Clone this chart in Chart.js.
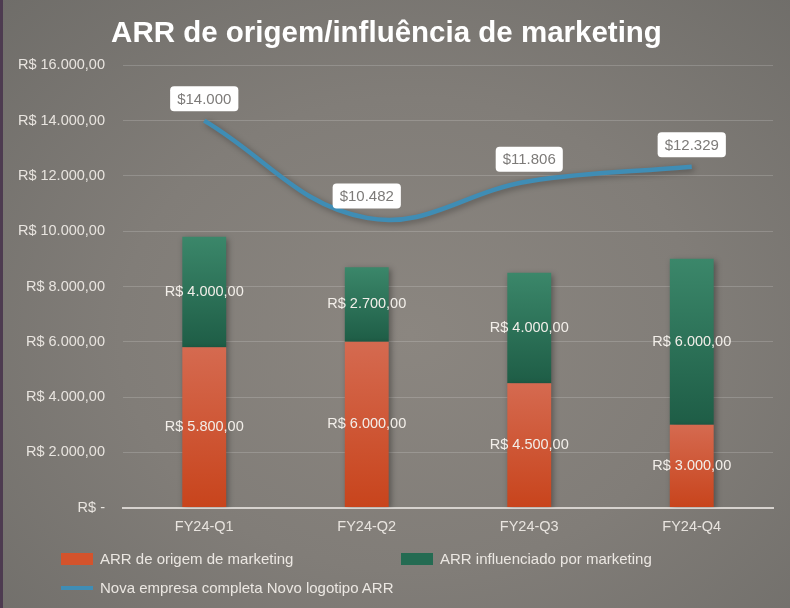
<!DOCTYPE html>
<html>
<head>
<meta charset="utf-8">
<script src="https://cdn.jsdelivr.net/npm/chart.js@4.4.1/dist/chart.umd.min.js"></script>
<style>
  body { margin: 0; }
  #box {
    position: relative; width: 790px; height: 608px; overflow: hidden;
    background: radial-gradient(ellipse at 52% 55%, #8b8680 0%, #817d78 50%, #6f6d69 100%);
    font-family: "Liberation Sans", Arial, sans-serif;
  }
  #box:before { content: ""; position: absolute; left: 0; top: 0; width: 3px; height: 608px; background: #4d3b50; }
  .leg { position: absolute; color: #ebe7e2; font-size: 15px; line-height: 18px; white-space: nowrap; }
  .leg i { position: absolute; left: -39px; top: 3px; width: 32px; height: 12px; }
</style>
</head>
<body>
<div id="box">
  <canvas id="grafico" width="790" height="608"></canvas>
  <div class="leg" style="left:100px;top:550px"><i style="background:#d4532c"></i>ARR de origem de marketing</div>
  <div class="leg" style="left:440px;top:550px"><i style="background:#246b52"></i>ARR influenciado por marketing</div>
  <div class="leg" style="left:100px;top:579px"><i style="background:#3f8db5;height:4px;top:7px"></i>Nova empresa completa Novo logotipo ARR</div>
</div>
<script>
var categorias = ['FY24-Q1', 'FY24-Q2', 'FY24-Q3', 'FY24-Q4'];
var origem = [5800, 6000, 4500, 3000];
var influenciado = [4000, 2700, 4000, 6000];
var novoLogo = [14000, 10482, 11806, 12329];
var eixoMax = 16000;
var eixoPasso = 2000;

function milhar(n) {
  return String(Math.round(n)).replace(/\B(?=(\d{3})+(?!\d))/g, '.');
}
function brl(v) {
  if (v === 0) return 'R$ -';
  return 'R$ ' + milhar(v) + ',00';
}

// gradiente por segmento da barra
function degrade(topo, base, inicio) {
  return function (c) {
    var ch = c.chart;
    if (!ch.chartArea || !ch.scales.y) return base;
    var i = c.dataIndex;
    var v0 = inicio ? inicio[i] : 0;
    var v1 = v0 + c.dataset.data[i];
    var y0 = ch.scales.y.getPixelForValue(v0);
    var y1 = ch.scales.y.getPixelForValue(v1);
    if (!isFinite(y0) || !isFinite(y1) || y0 === y1) return base;
    var g = ch.ctx.createLinearGradient(0, y1, 0, y0);
    g.addColorStop(0, topo);
    g.addColorStop(1, base);
    return g;
  };
}

var sombra = {
  id: 'sombra',
  beforeDatasetDraw: function (chart) {
    var ctx = chart.ctx;
    ctx.save();
    ctx.shadowColor = 'rgba(0,0,0,0.35)';
    ctx.shadowBlur = 6;
    ctx.shadowOffsetX = 2;
    ctx.shadowOffsetY = 2;
  },
  afterDatasetDraw: function (chart) {
    chart.ctx.restore();
  }
};

var rotulos = {
  id: 'rotulos',
  afterDatasetsDraw: function (chart) {
    var ctx = chart.ctx;
    ctx.save();
    ctx.textAlign = 'center';
    ctx.textBaseline = 'middle';
    ctx.font = '14.5px "Liberation Sans", Arial, sans-serif';
    ctx.fillStyle = '#f2eee9';
    [0, 1].forEach(function (di) {
      chart.getDatasetMeta(di).data.forEach(function (bar, i) {
        ctx.fillText(brl(chart.data.datasets[di].data[i]), bar.x, (bar.y + bar.base) / 2);
      });
    });
    ctx.font = '15px "Liberation Sans", Arial, sans-serif';
    chart.getDatasetMeta(2).data.forEach(function (pt, i) {
      var txt = '$' + milhar(novoLogo[i]);
      var w = ctx.measureText(txt).width + 14;
      var h = 25;
      var cy = pt.y - 22;
      ctx.fillStyle = '#ffffff';
      ctx.beginPath();
      ctx.roundRect(pt.x - w / 2, cy - h / 2, w, h, 4);
      ctx.fill();
      ctx.fillStyle = '#7d7b79';
      ctx.fillText(txt, pt.x, cy + 1);
    });
    ctx.restore();
  }
};

var grafico = new Chart(document.getElementById('grafico'), {
  type: 'bar',
  data: {
    labels: categorias,
    datasets: [
      {
        label: 'ARR de origem de marketing',
        data: origem,
        backgroundColor: degrade('#d56a50', '#c8441c', null),
        order: 1
      },
      {
        label: 'ARR influenciado por marketing',
        data: influenciado,
        backgroundColor: degrade('#3b876a', '#1e5d46', origem),
        order: 2
      },
      {
        type: 'line',
        label: 'Nova empresa completa Novo logotipo ARR',
        data: novoLogo,
        borderColor: '#3f8db5',
        borderWidth: 4.5,
        pointRadius: 0,
        tension: 0.4,
        fill: false,
        order: 0
      }
    ]
  },
  options: {
    responsive: false,
    animation: false,
    layout: { padding: { left: 0, right: 17, top: 0, bottom: 61 } },
    datasets: { bar: { barPercentage: 0.27, categoryPercentage: 1 } },
    plugins: {
      legend: { display: false },
      tooltip: { enabled: false },
      title: {
        display: true,
        text: 'ARR de origem/influência de marketing',
        color: '#ffffff',
        font: { family: '"Liberation Sans", Arial, sans-serif', size: 29.5, weight: 'bold' },
        padding: { top: 16, bottom: 14 }
      }
    },
    scales: {
      x: {
        stacked: true,
        grid: { display: false, drawTicks: false },
        border: { display: true, color: '#d6d2ce', width: 2 },
        ticks: { color: '#e8e4df', padding: 11, font: { family: '"Liberation Sans", Arial, sans-serif', size: 14.5 } }
      },
      y: {
        stacked: true,
        min: 0,
        max: eixoMax,
        afterFit: function (s) { s.width = 123; },
        grid: { color: 'rgba(255,255,255,0.17)', lineWidth: 1, drawTicks: false },
        border: { display: false },
        ticks: {
          stepSize: eixoPasso,
          padding: 18,
          color: '#e8e4df',
          font: { family: '"Liberation Sans", Arial, sans-serif', size: 14.5 },
          callback: function (v) { return brl(v); }
        }
      }
    }
  },
  plugins: [sombra, rotulos]
});
</script>
</body>
</html>
